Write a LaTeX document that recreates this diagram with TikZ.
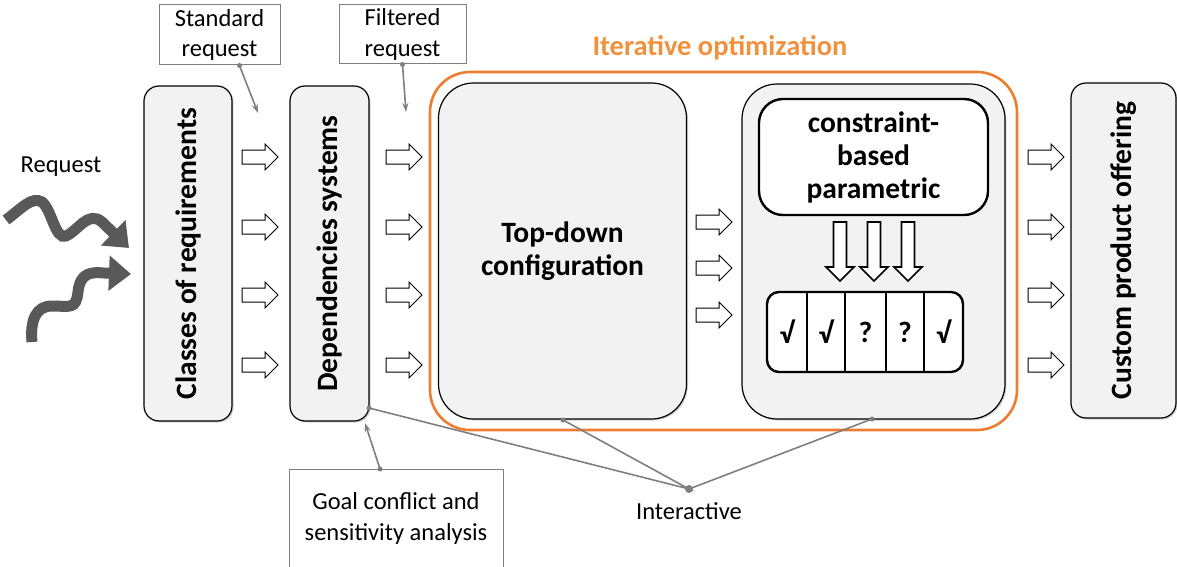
\documentclass[tikz,border=0pt]{standalone}
\usepackage{fontspec}
\setmainfont{Carlito}
\usetikzlibrary{arrows.meta,shadows,calc}
\definecolor{boxfill}{HTML}{F2F2F2}
\definecolor{orangeline}{HTML}{ED7D31}
\definecolor{orangetxt}{HTML}{F0913E}
\definecolor{squig}{HTML}{595959}
\definecolor{conn}{HTML}{7F7F7F}
\tikzset{
  mainbox/.style={draw=black, line width=1.2pt, fill=boxfill, rounded corners=#1,
    drop shadow={shadow xshift=1.5pt, shadow yshift=-1.5pt, fill=black!35}},
  mainbox/.default=15pt,
  vlabel/.style={rotate=90, font=\fontsize{29.5}{33}\selectfont\bfseries},
  blab/.style={font=\fontsize{29.5}{33}\selectfont\bfseries, align=center},
  callout/.style={draw=conn, line width=1pt, fill=white, font=\fontsize{24.5}{30.5}\selectfont, align=center, inner sep=0pt},
  plain/.style={font=\fontsize{24.5}{31}\selectfont, align=center},
  connline/.style={draw=conn, line width=1.6pt},
  conntip/.style={connline, -{Stealth[length=9pt,width=6pt]}},
  rarrow/.pic={\draw[fill=white, line width=1pt, line join=miter]
     (0,-7) -- (23,-7) -- (23,-13) -- (36,0) -- (23,13) -- (23,7) -- (0,7) -- cycle;},
  darrow/.pic={\draw[fill=white, line width=1.6pt, line join=miter]
     (-6.5,0) -- (-6.5,45) -- (-14,45) -- (0,59) -- (14,45) -- (6.5,45) -- (6.5,0) -- cycle;},
  squigarrow/.style={draw=squig, line width=11pt, line cap=butt,
     -{Triangle[length=22pt,width=34pt]}},
  dotend/.style={fill=conn, circle, inner sep=0pt, minimum size=#1},
  dotend/.default=5pt
}
\begin{document}
\begin{tikzpicture}[x=1pt,y=-1pt]
\useasboundingbox (0,0) rectangle (1177,567);

% orange frame
\node[draw=orangeline, line width=2.6pt, rounded corners=40pt, minimum width=587pt, minimum height=358pt, inner sep=0pt]
  (iter) at (723.5,251) {};
\node[font=\fontsize{28.5}{32}\selectfont\bfseries, text=orangetxt] (itertitle) at (720,48) {Iterative optimization};

% main boxes
\node[mainbox, minimum width=88pt, minimum height=335pt, inner sep=0pt] (classes) at (188,253.5) {};
\node[vlabel] at (classes.center) {Classes of requirements};
\node[mainbox, minimum width=79pt, minimum height=335pt, inner sep=0pt] (deps) at (329.5,253.5) {};
\node[vlabel] at (deps.center) {Dependencies systems};
\node[mainbox=35pt, minimum width=248pt, minimum height=336pt, inner sep=0pt] (topdown) at (562.5,251) {};
\node[blab] at (topdown.center) {Top-down\\configuration};
\node[mainbox=35pt, minimum width=263pt, minimum height=335pt, inner sep=0pt] (cbox) at (873.5,251.5) {};
\node[mainbox, minimum width=105pt, minimum height=335pt, inner sep=0pt] (custom) at (1123.5,250.5) {};
\node[vlabel] at (custom.center) {Custom product offering};

% constraint-based box
\node[draw=black, line width=2.4pt, fill=white, rounded corners=24pt, minimum width=229pt, minimum height=116pt,
  inner sep=0pt, blab] (param) at (873.5,157) {constraint-\\based\\parametric};
\foreach \x in {840,874,908} \pic at (\x,222) {darrow};

% result cells
\node[draw=black, line width=2.4pt, fill=white, rounded corners=12pt, minimum width=196pt, minimum height=80pt, inner sep=0pt]
  (cells) at (865,332) {};
\foreach \x in {807,845,886,924} \draw[line width=2pt] (\x,292) -- (\x,372);
\node[blab] (c1) at (787,332) {√};
\node[blab] (c2) at (826,332) {√};
\node[blab] (c3) at (865.5,332) {?};
\node[blab] (c4) at (905,332) {?};
\node[blab] (c5) at (943.5,332) {√};

% block arrows
\foreach \y in {157,227,295,365} {
  \pic at (242,\y) {rarrow};
  \pic at (386,\y) {rarrow};
  \pic at (1028,\y) {rarrow};
}
\foreach \y in {222,268,315} \pic at (696,\y) {rarrow};

% request squiggles
\node[plain] (request) at (61,167) {Request};
\coordinate (s1a) at (6,220);
\coordinate (s1b) at (129,248);
\draw[squigarrow] (s1a) .. controls (22,208) and (32,196) .. (42,202)
   .. controls (52,210) and (55,240) .. (66,236)
   .. controls (78,231) and (88,210) .. (102,222)
   -- (s1b);
\coordinate (s2a) at (32,342);
\coordinate (s2b) at (131,274);
\draw[squigarrow] (s2a) .. controls (30,320) and (36,306) .. (52,306)
   .. controls (70,306) and (76,310) .. (78,292)
   .. controls (80,272) and (92,272) .. (104,273)
   -- (s2b);

% callouts
\node[callout, minimum width=121pt, minimum height=60pt] (stdreq) at (219.5,35) {Standard\\request};
\coordinate (stdtip) at (258,113);
\draw[conntip] ($(stdreq.south)+(20,0)$) -- (stdtip);
\node[dotend] at ($(stdreq.south)+(20,0)$) {};

\node[callout, minimum width=127pt, minimum height=59pt] (filtreq) at (402.5,34.5) {Filtered\\request};
\coordinate (filttip) at (406,112);
\draw[conntip] (filtreq.south) -- (filttip);
\node[dotend] at (filtreq.south) {};

\node[callout, minimum width=214pt, minimum height=110pt] (goal) at (396,524) {};
\node[plain] at (396,518.5) {Goal conflict and\\sensitivity analysis};
\coordinate (goaltip) at (365,423);
\draw[conntip] (380,469) -- (goaltip);
\node[dotend] at (380,469) {};

% interactive
\node[dotend=8pt] (inter) at (689,489) {};
\node[plain] (interlabel) at (689,511) {Interactive};
\coordinate (d1) at (369,408);
\coordinate (d2) at (563,420);
\coordinate (d3) at (872,419);
\draw[connline] (d1) -- (inter.center) -- (d2);
\draw[connline] (inter.center) -- (d3);
\foreach \p in {d1,d2,d3} \node[dotend] at (\p) {};
\end{tikzpicture}
\end{document}
